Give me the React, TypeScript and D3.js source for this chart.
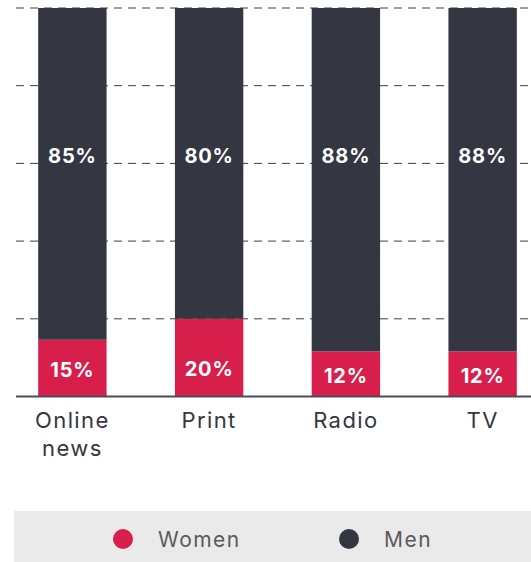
import React from "react";
import * as d3 from "d3";

const categories = ["Online news", "Print", "Radio", "TV"];
const categoryLines = [["Online", "news"], ["Print"], ["Radio"], ["TV"]];
const women = [14.6, 20, 11.6, 11.6];
const men = [85.4, 80, 88.4, 88.4];
const yTicks = [0, 20, 40, 60, 80, 100];
const seriesNames = ["Women", "Men"];
const seriesColors = ["#d81e4b", "#343642"];

const W = 531;
const H = 562;
const FONT = "Inter, 'Open Sans', sans-serif";

export default function App() {
  const x = d3.scaleBand<string>().domain(categories).range([4, 551]).paddingInner(0.5).paddingOuter(0.25);
  const y = d3.scaleLinear().domain([0, 100]).range([396.5, 8]);
  const stack = d3.stack<any>().keys(["women", "men"])(
    categories.map((c, i) => ({ cat: c, women: women[i], men: men[i] }))
  );
  const fmt = (v: number) => `${Math.round(v)}%`;
  const gridX0 = 16;
  const gridX1 = W;

  return (
    <svg width={W} height={H} style={{ position: "absolute", left: 0, top: 0, background: "#fff" }}>
      {yTicks.filter((t) => t > 0).map((t) => (
        <line key={t} x1={gridX0} x2={gridX1} y1={y(t)} y2={y(t)} stroke="#3a3c47" strokeWidth={1} strokeDasharray="8,6" />
      ))}
      {stack.map((layer, li) => (
        <g key={li} fill={seriesColors[li]}>
          {layer.map((d: any, i: number) => (
            <rect key={i} x={x(categories[i])} width={x.bandwidth()} y={y(d[1])} height={y(d[0]) - y(d[1])} />
          ))}
        </g>
      ))}
      {stack.map((layer, li) =>
        layer.map((d: any, i: number) => {
          const cx = (x(categories[i]) as number) + x.bandwidth() / 2;
          const mid = (y(d[0]) + y(d[1])) / 2;
          const cy = li === 0 ? Math.max(y(0) - 28, mid + 2) : y(62);
          const v = li === 0 ? women[i] : men[i];
          return (
            <text key={`${li}-${i}`} x={cx} y={cy} dy="0.36em" textAnchor="middle" fill="#fff"
              fontFamily={FONT} fontWeight={700} fontSize={20} letterSpacing={0.8}>
              {fmt(v)}
            </text>
          );
        })
      )}
      <line x1={gridX0} x2={gridX1} y1={y(0)} y2={y(0)} stroke="#4a4c57" strokeWidth={1.8} />
      {categoryLines.map((lines, i) => (
        <text key={i} x={(x(categories[i]) as number) + x.bandwidth() / 2} y={428} textAnchor="middle"
          fill="#343642" fontFamily={FONT} fontSize={22} letterSpacing={1.4}>
          {lines.map((l, j) => (
            <tspan key={j} x={(x(categories[i]) as number) + x.bandwidth() / 2} dy={j === 0 ? 0 : 28}>{l}</tspan>
          ))}
        </text>
      ))}
      <rect x={14} y={511} width={W - 14} height={H - 511} fill="#eaeaea" />
      {seriesNames.map((n, i) => {
        const cx = i === 0 ? 123 : 349;
        return (
          <g key={n}>
            <circle cx={cx} cy={539} r={10} fill={seriesColors[i]} />
            <text x={cx + 35} y={539} dy="0.36em" fill="#5a5a5a" fontFamily={FONT} fontSize={21} letterSpacing={1.5}>{n}</text>
          </g>
        );
      })}
    </svg>
  );
}
